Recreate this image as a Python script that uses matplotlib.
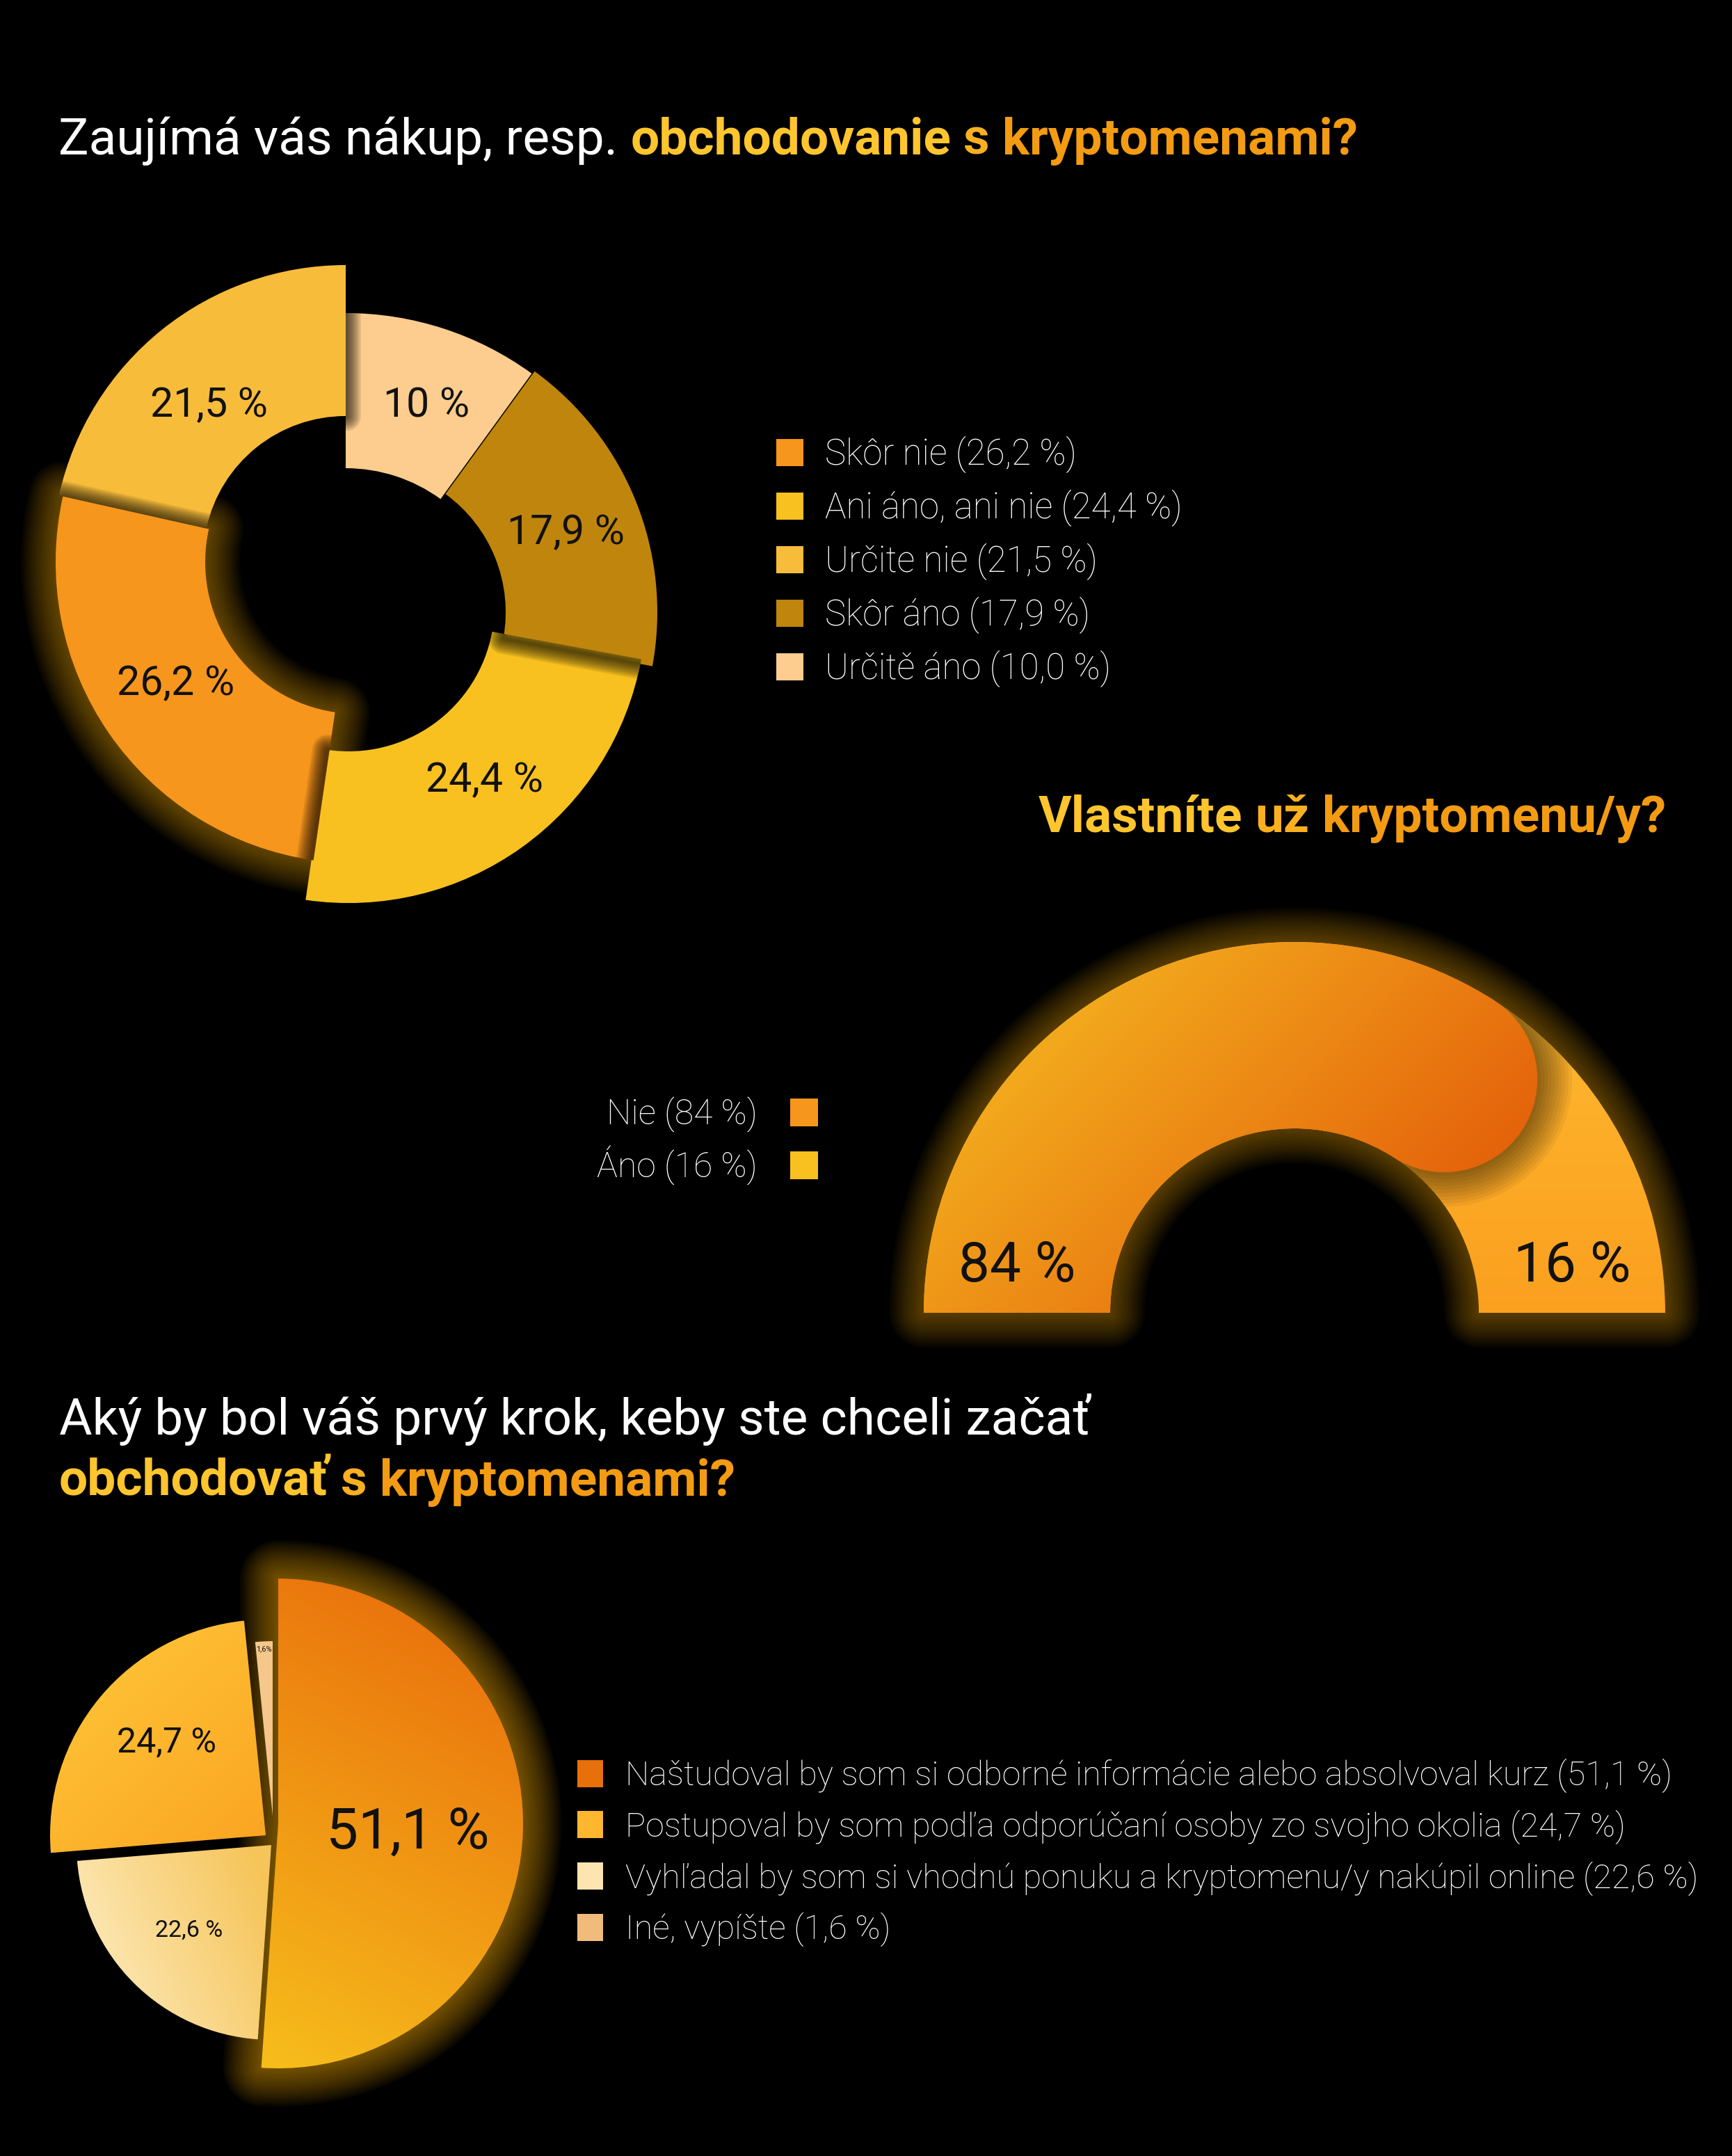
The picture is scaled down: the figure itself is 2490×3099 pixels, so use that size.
import numpy as np
import matplotlib.pyplot as plt
from matplotlib.patches import Wedge, Circle, Rectangle
from matplotlib.colors import to_rgb

plt.rcParams['font.family'] = ['Roboto', 'DejaVu Sans']

W, H = 2490, 3099
PT = 72 / 100  # pixels -> points at dpi 100
CAP = 0.711     # Roboto cap height / em

# ---------------- data ----------------
q1_title = 'Zaujímá vás nákup, resp.'
q1_title_hl = 'obchodovanie s kryptomenami?'
q1_labels = ['Skôr nie', 'Ani áno, ani nie', 'Určite nie', 'Skôr áno', 'Určitě áno']
q1_values = [26.2, 24.4, 21.5, 17.9, 10.0]
q1_colors = ['#f7961d', '#f8c11f', '#f8bc3b', '#bf850c', '#fccd8e']

q2_title = 'Vlastníte už kryptomenu/y?'
q2_labels = ['Nie', 'Áno']
q2_values = [84, 16]
q2_colors = ['#f7961d', '#f8c11f']

q3_title = 'Aký by bol váš prvý krok, keby ste chceli začať'
q3_title_hl = 'obchodovať s kryptomenami?'
q3_labels = ['Naštudoval by som si odborné informácie alebo absolvoval kurz',
             'Postupoval by som podľa odporúčaní osoby zo svojho okolia',
             'Vyhľadal by som si vhodnú ponuku a kryptomenu/y nakúpil online',
             'Iné, vypíšte']
q3_values = [51.1, 24.7, 22.6, 1.6]
q3_colors = ['#e8700a', '#fdb72e', '#fde5b0', '#f0bb7b']

# ---------------- layout (pixels) ----------------
# donut: slices clockwise from 12 o'clock, each slightly displaced
q1_order = [4, 3, 1, 0, 2]
q1_centre = [(497, 905), (517, 880), (501, 870), (513, 808), (497, 803)]
q1_rin = [232, 210, 210, 218, 205]
q1_rout = [455, 428, 428, 433, 422]
q1_lab_off = [(10, 0), (0, 0), (10, -12), (8, -14), (0, 20)]
# which slice drops a shadow on which (indices into the drawing order)
q1_shadows = [(4, 0), (1, 2), (2, 3), (3, 4)]

# half-ring gauge
q2_c = (1861, 1887)
q2_R, q2_w = 533, 268
q2_span = 146.0   # degrees drawn for 100 % (the round cap adds the rest)

# exploded pie
q3_order = [0, 2, 1, 3]
q3_centre = [(400, 2621), (390, 2652), (382, 2638), (392, 2610)]
q3_radius = [352, 280, 310, 251]
q3_label_r = [0.53, 0.6, 0.64, 0.96]
q3_lab_off = [(0, 0), (0, 0), (10, -10), (0, 0)]
q3_label_px = [82, 34, 50, 11]
q3_grad = [('#f7be1c', '#e8680a', (0, 1), (1, 0)),
           ('#fdebbe', '#f6c55a', (0, 0.7), (1, 0.3)),
           ('#ffc93a', '#fba422', (0, 0), (1, 1)),
           None]


def fmt(v, dec=None):
    s = f'{v:.{dec}f}' if dec is not None else f'{v:g}'
    return s.replace('.', ',')


fig = plt.figure(figsize=(W / 100, H / 100), dpi=100, facecolor='black')
ax = fig.add_axes([0, 0, 1, 1])
ax.set_facecolor('black')
renderer = fig.canvas.get_renderer()


def wedge(c, r, a_from, a_to, width=None):
    # screen angles (counter-clockwise, y up); axis y is inverted
    return Wedge(c, r, -a_from, -a_to, width=width)


def pt_at(c, r, a):
    return (c[0] + r * np.cos(np.radians(a)), c[1] - r * np.sin(np.radians(a)))


def glow(make, color='#e6a400', spread=50, steps=16, alpha=0.032, z=1, clip=None):
    for i in range(steps, 0, -1):
        p = make()
        p.set_facecolor('none')
        p.set_edgecolor(color)
        p.set_alpha(alpha)
        p.set_linewidth(2 * spread * i / steps * PT)
        p.set_joinstyle('round')
        p.set_zorder(z)
        ax.add_patch(p)
        if clip is not None:
            p.set_clip_path(clip)


def grad_fill(patch, c0, c1, p0, p1, z=3):
    patch.set_facecolor('none')
    patch.set_edgecolor('none')
    patch.set_zorder(z)
    ax.add_patch(patch)
    bb = patch.get_path().transformed(patch.get_patch_transform()).get_extents()
    x0, y0, x1, y1 = bb.x0 - 2, bb.y0 - 2, bb.x1 + 2, bb.y1 + 2
    X, Y = np.meshgrid(np.linspace(x0, x1, 300), np.linspace(y0, y1, 300))
    d = np.array(p1, float) - np.array(p0, float)
    t = ((X - p0[0]) * d[0] + (Y - p0[1]) * d[1]) / (d @ d)
    t = np.clip(t, 0, 1)[..., None]
    img = np.array(to_rgb(c0)) * (1 - t) + np.array(to_rgb(c1)) * t
    im = ax.imshow(img, extent=(x0, x1, y0, y1), origin='lower',
                   interpolation='bilinear', aspect='auto', zorder=z)
    im.set_clip_path(patch)
    return bb


def grad_fill_frac(patch, c0, c1, f0, f1, z=3):
    bb = patch.get_path().transformed(patch.get_patch_transform()).get_extents()
    p0 = (bb.x0 + f0[0] * bb.width, bb.y0 + f0[1] * bb.height)
    p1 = (bb.x0 + f1[0] * bb.width, bb.y0 + f1[1] * bb.height)
    grad_fill(patch, c0, c1, p0, p1, z)


def text_w(s, **kw):
    t = ax.text(0, 0, s, **kw)
    w = t.get_window_extent(renderer).width
    t.remove()
    return w


def mix(c0, c1, t):
    return tuple(np.array(to_rgb(c0)) * (1 - t) + np.array(to_rgb(c1)) * t)


def grad_words(x, y, s, px, c0='#fec52e', c1='#f39b12', ha='left'):
    kw = dict(fontsize=px * PT, fontweight='bold')
    words = s.split(' ')
    xs = []
    for i, w in enumerate(words):
        xs.append(text_w(' '.join(words[:i + 1]), **kw) - text_w(w, **kw))
    start = x if ha == 'left' else x - text_w(s, **kw)
    n = len(words)
    for i, w in enumerate(words):
        ax.text(start + xs[i], y, w, color=mix(c0, c1, i / max(n - 1, 1)),
                va='baseline', zorder=6, **kw)


def label(x, yc, s, px, color='white', weight='normal', ha='left'):
    return ax.text(x, yc + CAP * px / 2, s, fontsize=px * PT, color=color,
                   fontweight=weight, ha=ha, va='baseline', zorder=6)


# ---------------- chart 1: donut ----------------
a = 90.0
makers, patches = [], []
for k, i in enumerate(q1_order):
    span = q1_values[i] * 3.6
    c, ri, ro = q1_centre[k], q1_rin[k], q1_rout[k]
    make = lambda c=c, ri=ri, ro=ro, a=a, span=span: wedge(c, ro, a, a - span, ro - ri)
    if i == 0:
        glow(make, spread=50, alpha=0.035)
    p = make()
    p.set_facecolor(q1_colors[i])
    p.set_edgecolor('none')
    p.set_zorder(3)
    ax.add_patch(p)
    makers.append(make)
    patches.append(p)
    lx, ly = pt_at(c, (ri + ro) / 2, a - span / 2)
    dx, dy = q1_lab_off[k]
    label(lx + dx, ly + dy, fmt(q1_values[i]) + ' %', 59, color='#111111', ha='center')
    a -= span

for src, dst in q1_shadows:
    glow(makers[src], color='black', spread=22, steps=10, alpha=0.09, z=3.5,
         clip=patches[dst])

for i in range(len(q1_labels)):
    yc = 650 + 77 * i
    ax.add_patch(Rectangle((1116, yc - 19.5), 39, 39, facecolor=q1_colors[i],
                           edgecolor='none', zorder=5))
    label(1186, yc, f'{q1_labels[i]} ({fmt(q1_values[i], 1)} %)', 51, weight='light')

ax.text(84, 222, q1_title, fontsize=73 * PT, color='white', va='baseline', zorder=6)
hl_x = 84 + text_w(q1_title, fontsize=73 * PT) + 0.25 * 73
grad_words(hl_x, 222, q1_title_hl, 73)

# ---------------- chart 2: half ring ----------------
grad_words(2395, 1196, q2_title, 73, ha='right')

glow(lambda: wedge(q2_c, q2_R, 180, 0, q2_w), spread=50, alpha=0.032)
track = wedge(q2_c, q2_R, 180, 0, q2_w)
grad_fill(track, '#ffbd33', '#fb9f1f', (0, q2_c[1] - q2_R), (0, q2_c[1]), z=3)

end = 180 - q2_values[0] / 100 * q2_span
r_mid = q2_R - q2_w / 2
cap_c = pt_at(q2_c, r_mid, end)
for k in range(10, 0, -1):
    sh = Circle(cap_c, q2_w / 2 + k * 5, facecolor='black', alpha=0.05,
                edgecolor='none', zorder=3.5)
    ax.add_patch(sh)
    sh.set_clip_path(track)

g0, g1 = '#f8c424', '#e04c05'
p0 = (q2_c[0] - q2_R, q2_c[1] - q2_R)
p1 = (p0[0] + 700, p0[1] + 700)
grad_fill(wedge(q2_c, q2_R, 180, end, q2_w), g0, g1, p0, p1, z=4)
grad_fill(Circle(cap_c, q2_w / 2), g0, g1, p0, p1, z=4)

label(q2_c[0] - r_mid, q2_c[1] - 73, f'{q2_values[0]} %', 80, color='#111111', ha='center')
label(q2_c[0] + r_mid, q2_c[1] - 73, f'{q2_values[1]} %', 80, color='#111111', ha='center')

for i in range(len(q2_labels)):
    yc = 1599 + 76 * i
    ax.add_patch(Rectangle((1136, yc - 20), 40, 40, facecolor=q2_colors[i],
                           edgecolor='none', zorder=5))
    label(1089, yc, f'{q2_labels[i]} ({q2_values[i]} %)', 50, weight='light', ha='right')

# ---------------- chart 3: exploded pie ----------------
ax.text(85, 2062, q3_title, fontsize=73 * PT, color='white', va='baseline', zorder=6)
grad_words(85, 2150, q3_title_hl, 73)

a = 90.0
for k, i in enumerate(q3_order):
    span = q3_values[i] * 3.6
    c, r = q3_centre[k], q3_radius[k]
    make = lambda c=c, r=r, a=a, span=span: wedge(c, r, a, a - span)
    if i == 0:
        glow(make, spread=55, alpha=0.042)
    if q3_grad[k] is None:
        p = make()
        p.set_facecolor('#f5c78a')
        p.set_edgecolor('none')
        p.set_zorder(3)
        ax.add_patch(p)
    else:
        grad_fill_frac(make(), *q3_grad[k])
    lx, ly = pt_at(c, r * q3_label_r[k], a - span / 2)
    dx, dy = q3_lab_off[k]
    sep = '' if q3_values[i] < 5 else ' '
    label(lx + dx, ly + dy, fmt(q3_values[i]) + sep + '%', q3_label_px[k],
          color='#111111', ha='center')
    a -= span

for i in range(len(q3_labels)):
    yc = 2549 + 73.7 * i
    ax.add_patch(Rectangle((830, yc - 19.5), 37, 39, facecolor=q3_colors[i],
                           edgecolor='none', zorder=5))
    label(899, yc, f'{q3_labels[i]} ({fmt(q3_values[i])} %)', 48.5, weight='light')

ax.set_xlim(0, W)
ax.set_ylim(H, 0)
ax.axis('off')
fig.savefig('out.png', dpi=100, facecolor='black')
